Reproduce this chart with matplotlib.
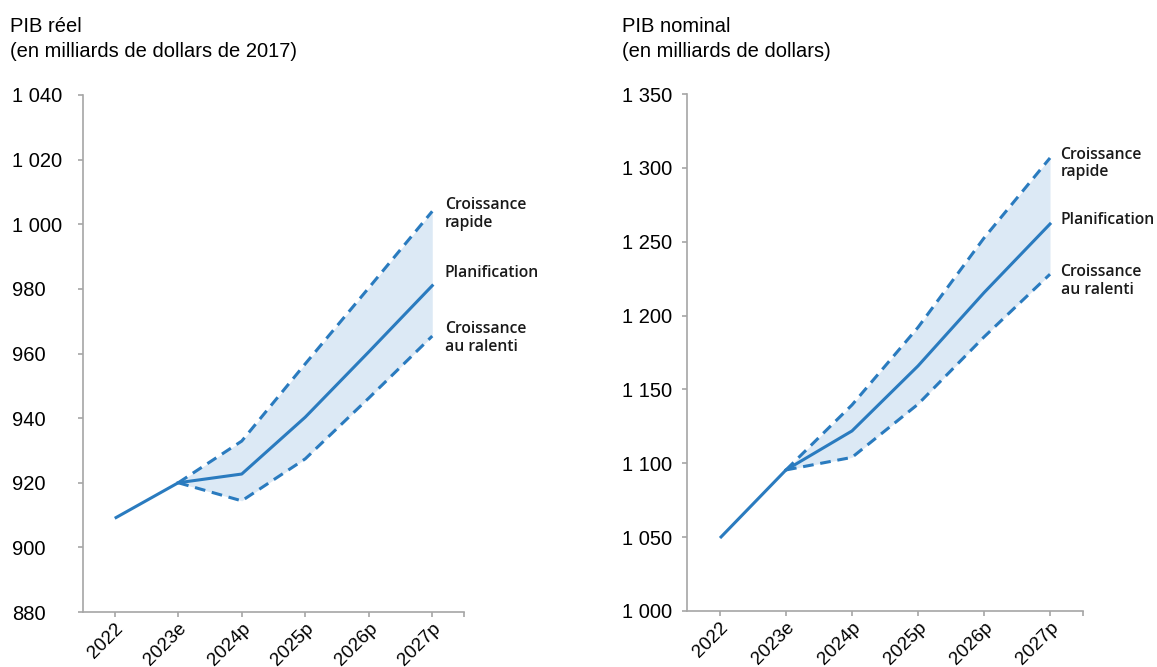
import matplotlib
matplotlib.use("Agg")
from matplotlib import pyplot as plt
import numpy as np

# categories
years = ['2022', '2023e', '2024p', '2025p', '2026p', '2027p']

# PIB reel (milliards de dollars de 2017)
reel_hist = [909, 920]
reel_plan = [920, 922.7, 940.3, 960.5, 981]
reel_rapide = [920, 932.9, 956.8, 980.3, 1004]
reel_ralenti = [920, 914.4, 927.4, 946.2, 965.4]

# PIB nominal (milliards de dollars)
nom_hist = [1049.4, 1095.5]
nom_plan = [1095.5, 1121.9, 1165.9, 1215.5, 1262]
nom_rapide = [1095.5, 1139.5, 1192, 1252.5, 1306.7]
nom_ralenti = [1095.5, 1104, 1140, 1185.5, 1228]

blue = '#2a7bbf'
fill = '#dce9f5'
grey = '#a6a6a6'
tick_font = 'Liberation Sans'
lab_font = 'Open Sans'
H = 667.0
W = 1157.0

fig = plt.figure(figsize=(11.57, 6.67), dpi=100)
ax1 = fig.add_axes([83 / W, 55 / H, 381 / W, 517 / H])
ax2 = fig.add_axes([687 / W, 56 / H, 396 / W, 517 / H])


def sp(v):
    return f'{int(v):,}'.replace(',', ' ')


def draw(ax, hist, plan, rapide, ralenti, ylim, step, title, title_x, labels, lab_x, ypad):
    x = np.arange(len(years))
    xf = x[1:]
    ax.fill_between(xf, ralenti, rapide, color=fill, lw=0, zorder=1)
    ax.plot(xf, rapide, color=blue, lw=2.2, ls=(0, (3.5, 2.2)), zorder=2)
    ax.plot(xf, ralenti, color=blue, lw=2.2, ls=(0, (3.5, 2.2)), zorder=2)
    ax.plot(x[:2], hist, color=blue, lw=2.2, zorder=3, solid_capstyle='butt')
    ax.plot(xf, plan, color=blue, lw=2.2, zorder=3)

    ax.set_xlim(-0.5, 5.5)
    ax.set_ylim(*ylim)
    ax.set_xticks(x)
    ax.set_xticks([5.5], minor=True)
    ax.set_xticklabels(years, rotation=45, ha='right', rotation_mode='anchor',
                       fontsize=13.5, family=tick_font)
    yt = np.arange(ylim[0], ylim[1] + 1, step)
    ax.set_yticks(yt)
    ax.set_yticklabels([sp(v) for v in yt], fontsize=14.5, family=tick_font, ha='left')
    for s in ['top', 'right']:
        ax.spines[s].set_visible(False)
    for s in ['left', 'bottom']:
        ax.spines[s].set_color(grey)
        ax.spines[s].set_linewidth(1.2)
    ax.tick_params(axis='both', which='both', color=grey, width=1.2, length=3.6)
    ax.tick_params(axis='y', pad=ypad)
    ax.tick_params(axis='x', pad=2)

    for line, base in zip(title, [32, 57]):
        fig.text(title_x, 1 - base / H, line, fontsize=14.5, family=tick_font,
                 va='baseline', ha='left')
    for txt, yv in labels:
        ax.text(lab_x, yv, txt, fontsize=11.3, family=lab_font, weight='semibold',
                va='center', ha='left', clip_on=False, color='#1a1a1a',
                linespacing=1.1)


draw(ax1, reel_hist, reel_plan, reel_rapide, reel_ralenti, (880, 1040), 20,
     ['PIB réel', '(en milliards de dollars de 2017)'], 10 / W,
     [('Croissance\nrapide', 1003.2), ('Planification', 985), ('Croissance\nau ralenti', 964.8)],
     5.2, 47.5)
draw(ax2, nom_hist, nom_plan, nom_rapide, nom_ralenti, (1000, 1350), 50,
     ['PIB nominal', '(en milliards de dollars)'], 622 / W,
     [('Croissance\nrapide', 1303), ('Planification', 1264.7), ('Croissance\nau ralenti', 1223.4)],
     5.16, 43.2)

fig.savefig('out.png', dpi=100)
